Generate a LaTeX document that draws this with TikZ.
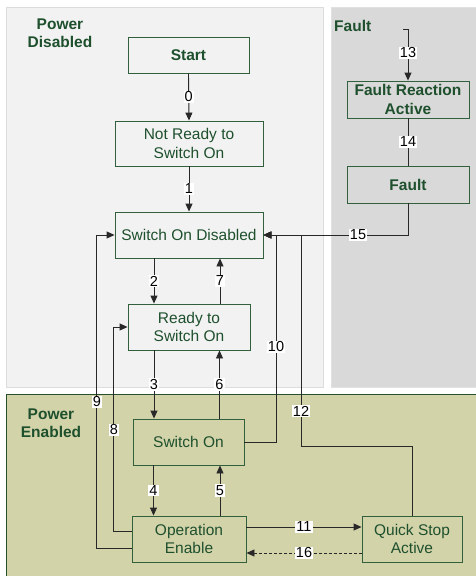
\documentclass[tikz,border=0pt]{standalone}
\usepackage{fontspec}
\setmainfont{Liberation Sans}
\usetikzlibrary{arrows.meta,calc}
\definecolor{txtgreen}{RGB}{30,80,45}
\definecolor{boxgreen}{RGB}{50,95,60}
\definecolor{pdfill}{RGB}{242,242,242}
\definecolor{pdline}{RGB}{220,220,220}
\definecolor{ffill}{RGB}{217,217,217}
\definecolor{pefill}{RGB}{211,211,170}
\definecolor{peline}{RGB}{40,80,45}
\definecolor{conn}{RGB}{40,40,40}
\tikzset{
  statebox/.style={draw=boxgreen, line width=0.9pt, rectangle, align=center, inner sep=0pt,
    text=txtgreen, font=\fontsize{15.5}{18.3}\selectfont},
  boldbox/.style={statebox, font=\fontsize{15.5}{18.3}\selectfont\bfseries},
  region/.style={line width=0.9pt},
  regtitle/.style={text=txtgreen, font=\fontsize{15.5}{18}\selectfont\bfseries, align=center, inner sep=0pt},
  arr/.style={draw=conn, line width=0.9pt, -{Triangle[length=8pt,width=7pt]}},
  plain/.style={draw=conn, line width=0.9pt},
  lbl/.style={fill=white, text=black, inner sep=1pt, font=\fontsize{14.5}{15}\selectfont}
}
\begin{document}
\begin{tikzpicture}[x=1pt,y=-1pt]
\useasboundingbox (0,0) rectangle (475,576);
% regions
\filldraw[region, fill=pdfill, draw=pdline] (6,7) rectangle (323,387);
\filldraw[region, fill=ffill, draw=ffill!80!white] (331,7) rectangle (478,387);
\filldraw[region, fill=pefill, draw=peline] (6,394) rectangle (478,580);
\node[regtitle] (tPD) at (60,33) {Power\\Disabled};
\node[regtitle, anchor=west] (tF) at (334,26) {Fault};
\node[regtitle] (tPE) at (51,423) {Power\\Enabled};
% states
\node[boldbox, minimum width=121pt, minimum height=36pt] (Start) at (188.5,55) {Start};
\node[statebox, minimum width=148pt, minimum height=45pt] (NR) at (189,143.5) {Not Ready to\\Switch On};
\node[statebox, minimum width=148pt, minimum height=46pt] (SOD) at (189,235) {Switch On Disabled};
\node[statebox, minimum width=122pt, minimum height=46pt] (RTSO) at (189,327) {Ready to\\Switch On};
\node[statebox, minimum width=111pt, minimum height=46pt] (SwOn) at (188.5,442) {Switch On};
\node[statebox, minimum width=114pt, minimum height=46pt] (OpEn) at (189,539) {Operation\\Enable};
\node[statebox, minimum width=100pt, minimum height=46pt] (QSA) at (412,539) {Quick Stop\\Active};
\node[boldbox, minimum width=122pt, minimum height=37pt] (FRA) at (408,99.5) {Fault Reaction\\Active};
\node[boldbox, minimum width=122pt, minimum height=37pt] (Flt) at (408,184.5) {Fault};
% coordinates
\coordinate (c13) at (403,29);
\coordinate (c12) at (301,446);
% transitions
\draw[arr] (Start.south) -- (NR.north) node[lbl, midway] (l0) {0};
\draw[arr] (NR.south) -- (SOD.north) node[lbl, midway] (l1) {1};
\draw[arr] ([xshift=-35]SOD.south) -- ([xshift=-35]SOD.south |- RTSO.north) node[lbl, midway] (l2) {2};
\draw[arr] ([xshift=31]RTSO.north) -- ([xshift=31]RTSO.north |- SOD.south) node[lbl, midway] (l7) {7};
\draw[arr] ([xshift=-35]RTSO.south) -- ([xshift=-35]RTSO.south |- SwOn.north) node[lbl, midway] (l3) {3};
\draw[arr] ([xshift=31]SwOn.north) -- ([xshift=31]SwOn.north |- RTSO.south) node[lbl, midway] (l6) {6};
\draw[arr] ([xshift=-35]SwOn.south) -- ([xshift=-35]SwOn.south |- OpEn.north) node[lbl, midway] (l4) {4};
\draw[arr] ([xshift=31]OpEn.north) -- ([xshift=31]OpEn.north |- SwOn.south) node[lbl, midway] (l5) {5};
\draw[arr] ([yshift=8]OpEn.west) -- ++(-18,0) |- (RTSO.west);
\draw[arr] ([yshift=-9]OpEn.west) -- ++(-35,0) |- (SOD.west);
\draw[arr] (SwOn.east) -| ([xshift=13]SOD.east) -- (SOD.east);
\draw[arr] (QSA.north) |- (c12) |- (SOD.east);
\draw[arr] (Flt.south) |- (SOD.east);
\draw[arr] (c13) -| (FRA.north);
\draw[plain] (FRA.south) -- (Flt.north) node[lbl, midway] (l14) {14};
\draw[arr] ([yshift=12]OpEn.east) -- ([yshift=12]OpEn.east -| QSA.west) node[lbl, midway] (l11) {11};
\draw[arr, densely dashed] ([yshift=-14]QSA.west) -- ([yshift=-14]QSA.west -| OpEn.east) node[lbl, midway] (l16) {16};
% labels on bent connectors
\node[lbl] (l8) at (114,430) {8};
\node[lbl] (l9) at (97,402) {9};
\node[lbl] (l10) at (276,347) {10};
\node[lbl] (l12) at (301,411) {12};
\node[lbl] (l15) at (358,235) {15};
\node[lbl] (l13) at (408,53) {13};
\end{tikzpicture}
\end{document}
